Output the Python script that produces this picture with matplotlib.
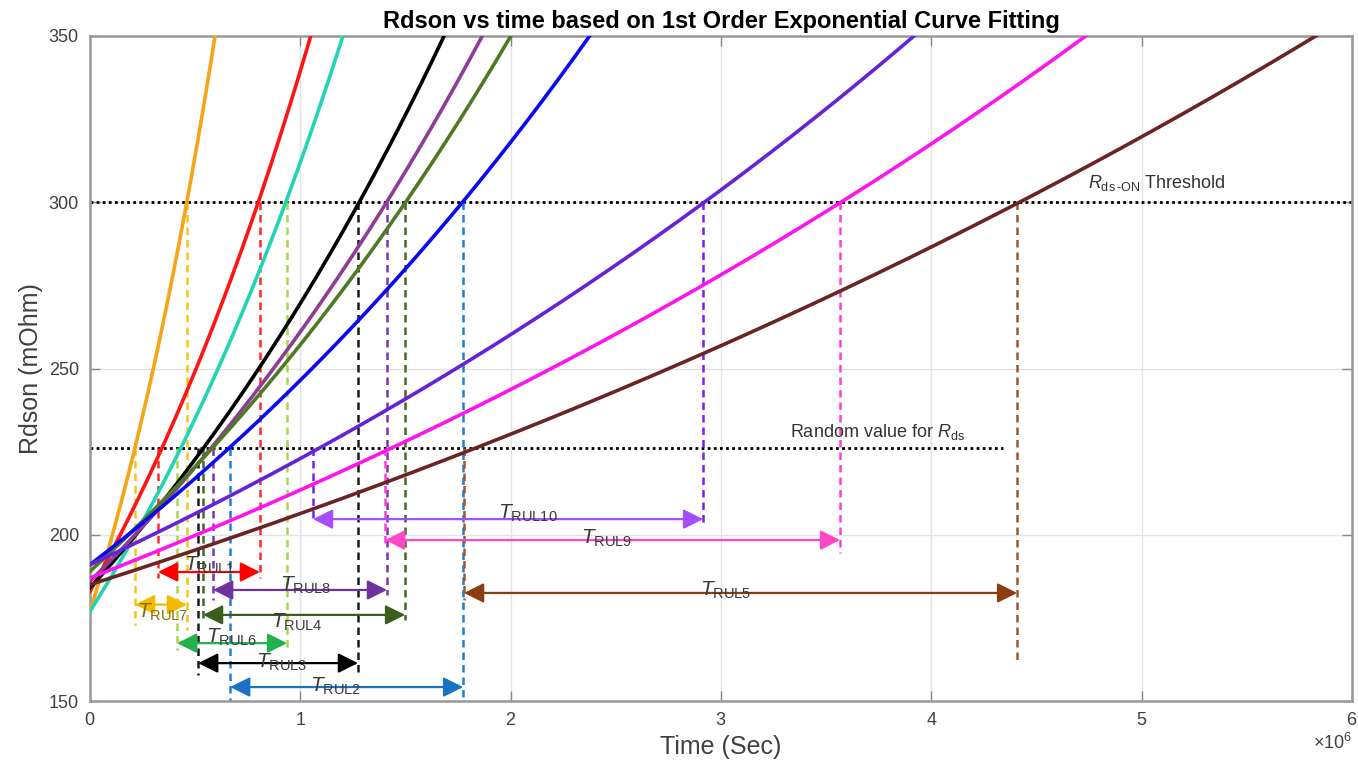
import matplotlib
matplotlib.use("Agg")
import matplotlib.pyplot as plt
from matplotlib.ticker import ScalarFormatter
import numpy as np

plt.rcParams['font.family'] = ['Liberation Sans', 'DejaVu Sans']
plt.rcParams['mathtext.fontset'] = 'custom'
plt.rcParams['mathtext.rm'] = 'Liberation Sans'
plt.rcParams['mathtext.it'] = 'Liberation Sans:italic'

# fitted curves Rdson = a * exp(b * t), t in 1e6 s
curve_a = [177, 183, 177, 184, 186, 189, 191, 191, 187, 185]
curve_b = [1.147, 0.618, 0.567, 0.382, 0.339, 0.308, 0.255, 0.1546, 0.1324, 0.1094]
curve_colors = ['#F5A516', '#FF1414', '#22D4B4', '#000000', '#8E3C98',
                '#4F7A24', '#0A0AF0', '#6623D6', '#FF14F0', '#6B2424']

threshold = 300
random_val = 226
random_end = 4.34e6

# RUL arrows: start (random value crossing), end (threshold crossing), level
rul_names = ['1', '7', '6', '3', '2', '8', '4', '10', '9', '5']
rul_start = [0.323, 0.214, 0.414, 0.514, 0.666, 0.585, 0.537, 1.06, 1.403, 1.778]
rul_end = [0.808, 0.461, 0.937, 1.274, 1.774, 1.412, 1.498, 2.915, 3.566, 4.408]
rul_level = [188.8, 179, 167.4, 161.4, 154.2, 183.4, 175.9, 204.7, 198.4, 182.5]
start_bottom = [187, 172.9, 165.3, 157.8, 150, 180.4, 174.4, 203.8, 196, 180.4]
end_bottom = [187, 171.4, 165.3, 157.8, 150, 181.9, 174.4, 203.8, 194.5, 162.3]
arrow_colors = ['#FF0000', '#F5B800', '#22B14C', '#000000', '#1A72C4',
                '#7030A0', '#3B5E1F', '#A64DFF', '#FF47C8', '#8B3E12']
dash_colors = ['#FF2A2A', '#F5C518', '#A6D84A', '#1A1A1A', '#1F7FD6',
               '#7B35B5', '#3F6B22', '#7A1FF0', '#FF40D8', '#A0582A']
label_t = [0.571, 0.347, 0.675, 0.913, 1.17, 1.027, 0.984, 2.083, 2.454, 3.02]
label_r = [190.9, 176.8, 169, 161.7, 154.5, 184.9, 173.8, 206.5, 199, 183.4]
label_colors = ['#3a3a3a', '#8a6a00', '#3a3a3a', '#3a3a3a', '#3a3a3a',
                '#3a3a3a', '#3a3a3a', '#3a3a3a', '#3a3a3a', '#3a3a3a']

fig = plt.figure(figsize=(13.58, 7.79), dpi=100)
ax = fig.add_axes([0.0663, 0.1001, 0.9293, 0.8537])

t = np.linspace(0, 6, 800)
for a, b, c in zip(curve_a, curve_b, curve_colors):
    ax.plot(t * 1e6, a * np.exp(b * t), color=c, lw=2.6, zorder=3)

ax.plot([0, 6e6], [threshold, threshold], color='black', ls=(0, (1, 1.2)), lw=2, zorder=2)
ax.plot([0, random_end], [random_val, random_val], color='black', ls=(0, (1, 1.2)), lw=2, zorder=2)

for i in range(len(rul_names)):
    s = rul_start[i] * 1e6
    e = rul_end[i] * 1e6
    dc = dash_colors[i]
    ax.plot([s, s], [random_val, start_bottom[i]], color=dc, ls=(0, (3, 2)), lw=1.8, zorder=2)
    ax.plot([e, e], [threshold, end_bottom[i]], color=dc, ls=(0, (3, 2)), lw=1.8, zorder=2)
    ax.annotate('', xy=(e, rul_level[i]), xytext=(s, rul_level[i]),
                arrowprops=dict(arrowstyle='<|-|>,head_length=0.6,head_width=0.3',
                                color=arrow_colors[i], lw=1.6, mutation_scale=20,
                                shrinkA=0, shrinkB=0), zorder=4)
    ax.text(label_t[i] * 1e6, label_r[i], r'$T_{\rm RUL' + rul_names[i] + '}$',
            ha='center', va='center', fontsize=15, color=label_colors[i], zorder=5)

ax.text(4.746e6, 305.8, r'$R_{\rm ds\,\text{-}ON}$ Threshold', fontsize=13,
        color='#333333', ha='left', va='center')
ax.text(3.33e6, 230.9, r'Random value for $R_{\rm ds}$', fontsize=13,
        color='#333333', ha='left', va='center')

ax.set_xlim(0, 6e6)
ax.set_ylim(150, 350)
ax.set_xticks(np.arange(0, 7) * 1e6)
ax.set_yticks([150, 200, 250, 300, 350])
fmt = ScalarFormatter(useMathText=True)
fmt.set_powerlimits((0, 0))
ax.xaxis.set_major_formatter(fmt)
ax.xaxis.get_offset_text().set_fontsize(13)
ax.xaxis.get_offset_text().set_color('#404040')

ax.grid(True, color='#E3E3E3', lw=1)
ax.set_axisbelow(True)
ax.tick_params(direction='in', top=True, right=True, length=7, width=1,
               color='#888888', labelsize=13, labelcolor='#404040', pad=8)
for sp in ax.spines.values():
    sp.set_color('#999999')
    sp.set_linewidth(1.8)

ax.set_xlabel('Time (Sec)', fontsize=18, color='#404040', labelpad=4)
ax.set_ylabel('Rdson (mOhm)', fontsize=18, color='#404040', labelpad=4)
ax.set_title('Rdson vs time based on 1st Order Exponential Curve Fitting',
             fontsize=17, fontweight='bold', pad=6)

fig.savefig('out.png', dpi=100)
